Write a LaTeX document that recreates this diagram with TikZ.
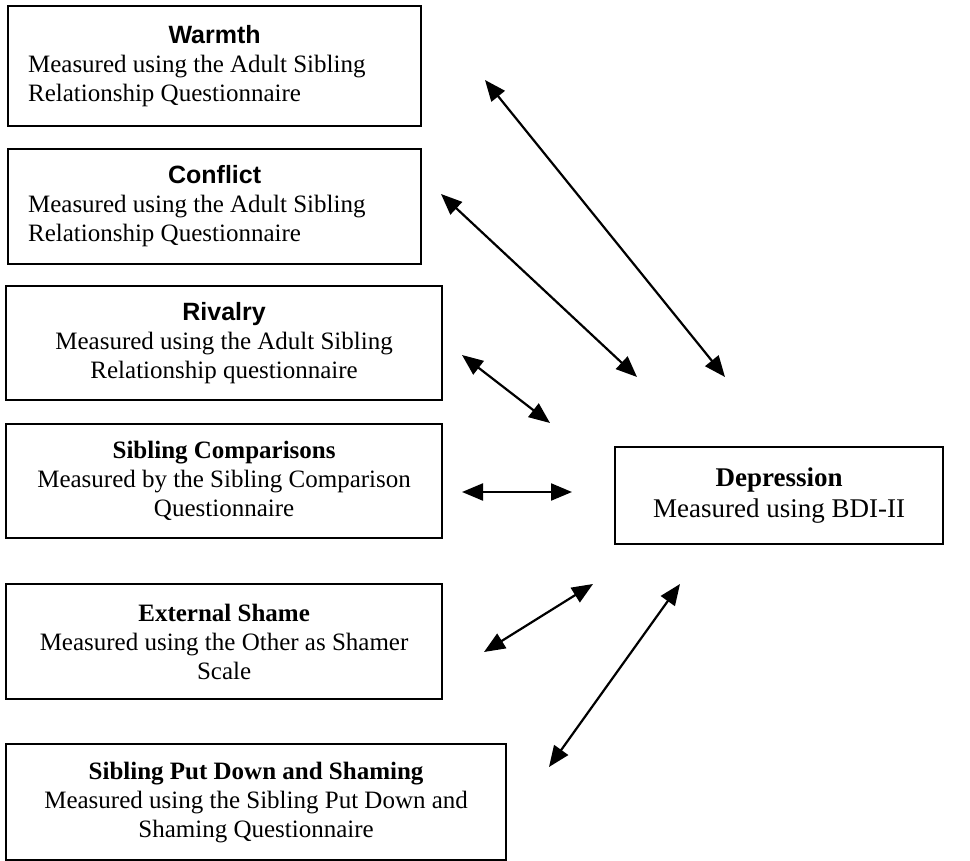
\documentclass[tikz,border=0pt]{standalone}
\usepackage{fontspec}
\setmainfont{Liberation Serif}
\newfontfamily\titlesans{Liberation Sans}
\usetikzlibrary{arrows.meta}
\newcommand\tsans[1]{{\fontsize{25}{29}\selectfont\titlesans\bfseries #1}}
\tikzset{
  box/.style={draw, line width=2.2pt, anchor=north west, inner sep=0pt,
    font=\fontsize{25}{29}\selectfont},
  cbox/.style={box, align=center},
  link/.style={line width=2.2pt,
    {Triangle[length=21pt,width=17pt]}-{Triangle[length=21pt,width=17pt]}}
}
\begin{document}
\begin{tikzpicture}[x=1pt,y=-1pt]
\useasboundingbox[fill=white] (0,0) rectangle (970,861);

\node[box, minimum width=413pt, minimum height=120pt, text width=373pt, align=flush left] (warmth) at (7,5)
  {{\centering\tsans{Warmth}\par}Measured using the Adult Sibling\\Relationship Questionnaire};
\node[box, minimum width=413pt, minimum height=115pt, text width=373pt, align=flush left] (conflict) at (7,148)
  {{\centering\tsans{Conflict}\par}Measured using the Adult Sibling\\Relationship Questionnaire};
\node[cbox, minimum width=436pt, minimum height=114pt] (rivalry) at (5,285)
  {\tsans{Rivalry}\\Measured using the Adult Sibling\\Relationship questionnaire};
\node[cbox, minimum width=436pt, minimum height=114pt] (sibcomp) at (5,423)
  {\textbf{Sibling Comparisons}\\Measured by the Sibling Comparison\\Questionnaire};
\node[cbox, minimum width=436pt, minimum height=115pt] (extshame) at (5,583)
  {\textbf{External Shame}\\Measured using the Other as Shamer\\Scale};
\node[cbox, minimum width=500pt, minimum height=116pt] (putdown) at (5,743)
  {\textbf{Sibling Put Down and Shaming}\\Measured using the Sibling Put Down and\\Shaming Questionnaire};
\node[cbox, minimum width=328pt, minimum height=97pt, font=\fontsize{27}{31}\selectfont] (depression) at (614,446)
  {\textbf{Depression}\\Measured using BDI-II};

\coordinate (a1s) at (485,80);  \coordinate (a1e) at (725,377);
\coordinate (a2s) at (441,194); \coordinate (a2e) at (637,377);
\coordinate (a3s) at (462,355); \coordinate (a3e) at (550,423);
\coordinate (a4s) at (462,492); \coordinate (a4e) at (572,492);
\coordinate (a5s) at (593,584); \coordinate (a5e) at (484,652);
\coordinate (a6s) at (680,584); \coordinate (a6e) at (549,767);

\draw[link] (a1s) -- (a1e);
\draw[link] (a2s) -- (a2e);
\draw[link] (a3s) -- (a3e);
\draw[link] (a4s) -- (a4e);
\draw[link] (a5s) -- (a5e);
\draw[link] (a6s) -- (a6e);
\end{tikzpicture}
\end{document}
